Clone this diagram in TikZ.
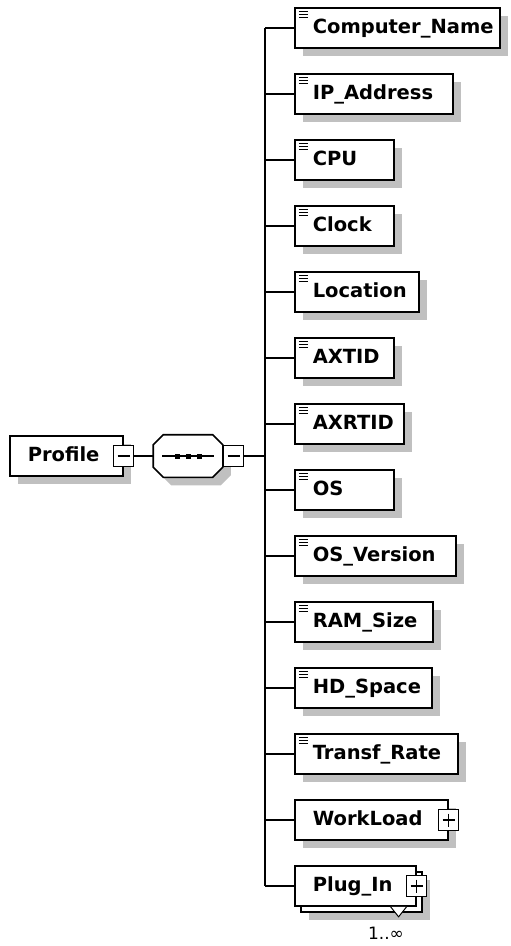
\documentclass[tikz,border=0pt]{standalone}
\usepackage{fontspec}
\setmainfont{DejaVu Sans}
\usetikzlibrary{positioning,shadows}
\definecolor{shadowgray}{RGB}{192,192,192}

\begin{document}
\begin{tikzpicture}[x=1pt,y=-1pt,line width=1.6pt,
        font=\fontsize{19.5}{22}\selectfont\bfseries,
        shade/.style={drop shadow={shadow xshift=8pt,shadow yshift=-8pt,opacity=1,fill=shadowgray}},
        elem/.style={draw,fill=white,anchor=west,minimum height=40pt,inner xsep=0pt,
            text height=15pt,text depth=4pt},
        elemicon/.style={path picture={
            \foreach \dy in {3.5,6.5,9.5}
                \draw[line width=1pt] ([shift={(4pt,-\dy pt)}]path picture bounding box.north west) -- ++(9pt,0pt);}},
        pmbox/.style={draw,fill=white,minimum width=20pt,minimum height=21pt,inner sep=0pt},
        minus/.style={pmbox,path picture={
            \draw[line width=1.2pt] ([xshift=4pt]path picture bounding box.center -| path picture bounding box.west)
                -- ([xshift=-4pt]path picture bounding box.center -| path picture bounding box.east);}},
        plus/.style={pmbox,path picture={
            \draw[line width=1.2pt] ([xshift=4pt]path picture bounding box.center -| path picture bounding box.west)
                -- ([xshift=-4pt]path picture bounding box.center -| path picture bounding box.east);
            \draw[line width=1.2pt] ([yshift=-4pt]path picture bounding box.center |- path picture bounding box.north)
                -- ([yshift=4pt]path picture bounding box.center |- path picture bounding box.south);}}
    ]
    \useasboundingbox (0,0) rectangle (511,946);

    \node[elem,shade] (profile) at (9,456) {\makebox[113pt][l]{\hspace*{18pt}Profile}};
    \node[minus] (profminus) at (profile.east) {};

    \node[minimum width=68pt,minimum height=41pt,inner sep=0pt] (seq) at (188,456) {};
    \draw[fill=white,shade] ([xshift=10pt]seq.north west) -- ([xshift=-10pt]seq.north east)
        -- ([yshift=-10pt]seq.north east) -- ([yshift=10pt]seq.south east)
        -- ([xshift=-10pt]seq.south east) -- ([xshift=10pt]seq.south west)
        -- ([yshift=10pt]seq.south west) -- ([yshift=-10pt]seq.north west) -- cycle;
    \draw[line width=1.2pt] ([xshift=9pt]seq.west) -- ([xshift=-9pt]seq.east);
    \foreach \dx in {-11,0,11}
        \fill ([xshift=\dx pt]seq.center) +(-2.5pt,-2.5pt) rectangle +(2.5pt,2.5pt);
    \node[minus,right=0pt of seq] (seqminus) {};
    \draw (profminus) -- (seq);

    \coordinate (hub) at (265,456);
    \draw (seqminus) -- (hub);

    \foreach \i/\w/\name in {1/205/Computer\_Name,2/158/IP\_Address,3/99/CPU,4/99/Clock,
            5/124/Location,6/99/AXTID,7/109/AXRTID,8/99/OS,9/161/OS\_Version,
            10/138/RAM\_Size,11/137/HD\_Space,12/163/Transf\_Rate}{
        \pgfmathsetmacro\yy{28+66*(\i-1)}
        \node[elem,elemicon,shade] (el-\i) at (294,\yy) {\makebox[\w pt][l]{\hspace*{18pt}\name}};
        \coordinate (t-\i) at (265,\yy);
        \draw (t-\i) -- (el-\i);
    }

    \node[elem,shade] (workload) at (294,820) {\makebox[153pt][l]{\hspace*{18pt}WorkLoad}};
    \node[plus] (wlplus) at (workload.east) {};
    \coordinate (t-13) at (265,820);
    \draw (t-13) -- (workload);

    \node[draw,fill=white,shade,anchor=west,minimum width=121pt,minimum height=40pt,inner sep=0pt] (plugback) at (300,892) {};
    \node[elem] (plugin) at (294,886) {\makebox[121pt][l]{\hspace*{18pt}Plug\_In}};
    \node[plus] (pgplus) at (plugin.east) {};
    \draw[fill=white,line width=1pt] ([xshift=-26pt]plugin.south east) -- ++(8pt,-10pt) -- ++(8pt,10pt);
    \node[font=\fontsize{17}{20}\selectfont\mdseries] (occurs) at (386,933) {1..∞};
    \coordinate (t-14) at (265,886);
    \draw (t-14) -- (plugin);

    \draw (t-1) -- (t-14);
\end{tikzpicture}
\end{document}
